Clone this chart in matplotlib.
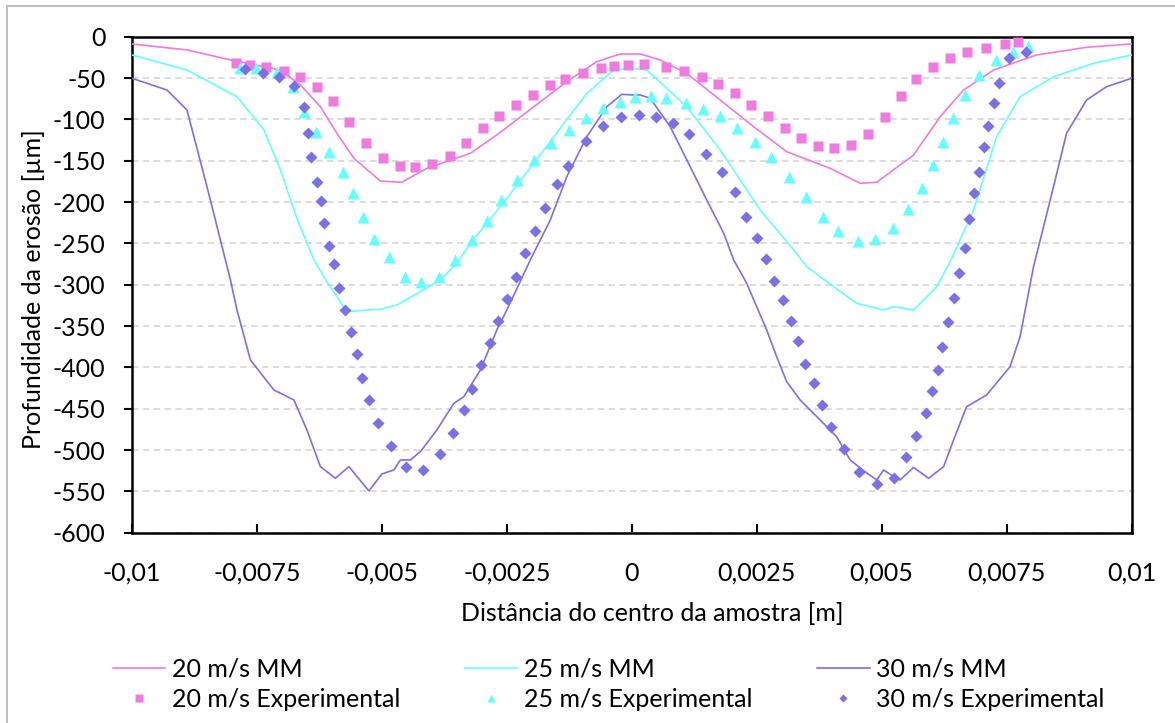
import matplotlib
matplotlib.use("Agg")
import matplotlib.pyplot as plt
from matplotlib.lines import Line2D
from matplotlib.ticker import FuncFormatter

# ---------------- data ----------------
# 20 m/s MM (line)
mm20_x = [-0.01, -0.0089, -0.00796, -0.00703, -0.00663, -0.00623, -0.0059, -0.00556, -0.00503, -0.0046,
          -0.0041, -0.00323, -0.0027, -0.00196, -0.0013, -0.0007, -0.00023, 0.00017, 0.00057, 0.0011,
          0.00177, 0.00244, 0.0031, 0.00397, 0.00457, 0.0049, 0.00564, 0.00617, 0.00664, 0.00724,
          0.0081, 0.0091, 0.01]
mm20_y = [-8.8, -16, -29, -40.3, -58.4, -84.7, -116.9, -147.1, -174.6, -176.1,
          -159.2, -141, -118.9, -84.7, -54.4, -30.2, -20.9, -20.9, -28.2, -44.3,
          -76.6, -108.9, -139.1, -159.2, -177.3, -176.1, -143.1, -96.8, -64.5, -40.3,
          -22.1, -12.8, -8.8]

# 25 m/s MM (line)
mm25_x = [-0.01, -0.0089, -0.0079, -0.00736, -0.00703, -0.00669, -0.00636, -0.0061, -0.0057, -0.0053,
          -0.00503, -0.0047, -0.00423, -0.00383, -0.0035, -0.00323, -0.00263, -0.00196, -0.00156, -0.0009,
          -0.00036, 0.0, 0.0003, 0.0011, 0.00177, 0.00257, 0.00324, 0.0035, 0.00404, 0.0045,
          0.00504, 0.00524, 0.00564, 0.0061, 0.00637, 0.00684, 0.0073, 0.00777, 0.00844, 0.00924, 0.01]
mm25_y = [-22.1, -40.3, -72.6, -112.9, -161.2, -221.7, -270.1, -296.4, -332.7, -330.6,
          -329.8, -324.5, -308.4, -294.3, -274.1, -249.9, -205.6, -153.1, -121, -68.5,
          -40.3, -38.2, -40.3, -84.7, -137, -209.6, -258, -278.2, -302.4, -322.5,
          -330.6, -326.6, -330.6, -302.4, -272.2, -209.6, -121, -72.6, -48.4, -32.2, -22.1]

# 30 m/s MM (line)
mm30_x = [-0.01, -0.0093, -0.0089, -0.0085, -0.00803, -0.0079, -0.00763, -0.00716, -0.00676, -0.0065,
          -0.00623, -0.00593, -0.00566, -0.00526, -0.005, -0.00476, -0.00463, -0.00443, -0.00423, -0.0039,
          -0.00356, -0.00336, -0.00303, -0.0027, -0.0025, -0.00203, -0.00163, -0.0013, -0.0009, -0.0005,
          -0.0002, 0.00004, 0.00017, 0.00037, 0.00077, 0.00117, 0.0015, 0.00184, 0.00204, 0.0023,
          0.0025, 0.0027, 0.0029, 0.0031, 0.00337, 0.00377, 0.0041, 0.00437, 0.00464, 0.0049,
          0.00504, 0.00524, 0.00537, 0.00564, 0.00594, 0.00624, 0.00644, 0.0067, 0.0071, 0.00757,
          0.00777, 0.00804, 0.00844, 0.0087, 0.0091, 0.0095, 0.01]
mm30_y = [-50.3, -64.5, -88.7, -181.4, -294.3, -330.6, -391.1, -427.4, -439.5, -475.7,
          -520.1, -534.2, -520.1, -549.5, -529, -524.1, -512, -512, -502, -475.7,
          -443.5, -435.5, -403.2, -354.8, -330.6, -270.1, -221.7, -169.3, -121, -84.7,
          -69.7, -70.5, -70.5, -74.5, -108.9, -157.3, -197.5, -237.8, -270.1, -298.3,
          -326.6, -354.8, -387.1, -417.3, -439.5, -463.7, -483.8, -512, -525, -536.2,
          -524.1, -532.2, -536.2, -521, -534.2, -520.1, -487.8, -447.6, -433.4, -399.2,
          -362.9, -278.2, -181.4, -116.9, -76.6, -60.5, -50.3]

# 20 m/s Experimental (squares)
ex20_x = [-0.00791, -0.00764, -0.00732, -0.00695, -0.00663, -0.00629, -0.00598, -0.00566, -0.00532, -0.00498,
          -0.00464, -0.00434, -0.004, -0.00364, -0.00331, -0.00298, -0.00266, -0.00232, -0.00198, -0.00164,
          -0.00133, -0.00098, -0.00062, -0.00036, -0.00007, 0.00024, 0.00069, 0.00105, 0.0014, 0.00172,
          0.00206, 0.00238, 0.00272, 0.00306, 0.00339, 0.00373, 0.00405, 0.00439, 0.00472, 0.00506,
          0.00538, 0.00569, 0.00602, 0.00637, 0.0067, 0.00709, 0.00746, 0.00772]
ex20_y = [-32.2, -34.2, -36.3, -41.1, -48.4, -60.5, -78.2, -103.6, -128.2, -146.7,
          -156, -157.6, -154, -143.9, -128.2, -110, -95.9, -83, -70.1, -58.4,
          -51.6, -44.3, -38.3, -35.5, -33.8, -33.4, -36.3, -41.5, -48.4, -57.2,
          -67.7, -82.6, -95.5, -110, -122.2, -131.8, -135, -130.6, -117.7, -96.8,
          -71.7, -51.2, -36.3, -25.4, -18.9, -14, -9.2, -6]

# 25 m/s Experimental (triangles)
ex25_x = [-0.00784, -0.00751, -0.0071, -0.00678, -0.00655, -0.00631, -0.00605, -0.00577, -0.00558, -0.00538,
          -0.00515, -0.00486, -0.00454, -0.00422, -0.00386, -0.00353, -0.0032, -0.0029, -0.00261, -0.0023,
          -0.00196, -0.00162, -0.00126, -0.00091, -0.00058, -0.00023, 0.00007, 0.00039, 0.00068, 0.00109,
          0.00142, 0.00177, 0.0021, 0.00246, 0.00278, 0.00314, 0.00348, 0.00382, 0.00413, 0.00452,
          0.00486, 0.00522, 0.00553, 0.0058, 0.00602, 0.00622, 0.00642, 0.00666, 0.00694, 0.00729,
          0.00762, 0.00792]
ex25_y = [-38.2, -38.2, -42.3, -60.5, -90.7, -114.9, -139.1, -164, -189.4, -218.5,
          -244.7, -266.9, -290.3, -297, -290.3, -270.1, -245.9, -222.9, -197.5, -173.3,
          -149.1, -129, -112.9, -98, -86.6, -78.6, -73.3, -71.7, -74.5, -79.8,
          -87.5, -95.6, -110, -127.7, -145.2, -169.3, -194.3, -217.7, -234.7, -247.1,
          -245.1, -231, -208.8, -183.4, -155.2, -127.7, -98, -70.5, -46.3, -28.2,
          -18.1, -11.2]

# 30 m/s Experimental (diamonds)
ex30_x = [-0.00773, -0.00738, -0.00705, -0.00676, -0.00656, -0.00648, -0.00641, -0.0063, -0.00621, -0.00615,
          -0.00606, -0.00596, -0.00586, -0.00574, -0.00562, -0.0055, -0.00539, -0.00525, -0.00507, -0.00481,
          -0.00451, -0.00418, -0.00383, -0.00357, -0.00336, -0.0032, -0.00301, -0.00284, -0.00268, -0.0025,
          -0.00232, -0.00214, -0.00193, -0.00173, -0.0015, -0.00128, -0.00092, -0.00058, -0.00021, 0.00014,
          0.00049, 0.00082, 0.00115, 0.00149, 0.0018, 0.00206, 0.00228, 0.0025, 0.00268, 0.00284,
          0.00302, 0.00318, 0.00332, 0.00346, 0.00364, 0.00381, 0.00399, 0.00424, 0.00454, 0.00491,
          0.00524, 0.00549, 0.00569, 0.00588, 0.00601, 0.00612, 0.00621, 0.00632, 0.00644, 0.00655,
          0.00666, 0.00675, 0.00684, 0.00694, 0.00704, 0.00712, 0.00725, 0.00735, 0.00755, 0.00788]
ex30_y = [-39.5, -44.3, -48.4, -59.6, -85.4, -116.1, -145.2, -176.1, -198.7, -225,
          -253.2, -275.3, -304, -330.6, -357.2, -383.4, -413.2, -439.5, -467.3, -495.1,
          -520.1, -523.8, -505.2, -479, -451.6, -426.2, -397.1, -370.9, -343.9, -317.7,
          -290.3, -261.3, -235, -206.8, -178.5, -156.4, -125.8, -108, -97.5, -94.7,
          -97.5, -104, -117.3, -141.5, -163.3, -187.9, -217.7, -243.9, -268.9, -295.5,
          -318.9, -343.9, -368.5, -395.9, -418.5, -445.9, -472.5, -499.1, -526.6, -540.7,
          -533.5, -508.8, -483, -455.6, -428.6, -403.2, -375.7, -345.5, -316.4, -286.2,
          -256, -220.5, -189.4, -163.7, -133.8, -107.7, -79.8, -55.6, -26.1, -18.1]

labels = ["20 m/s MM", "25 m/s MM", "30 m/s MM",
          "20 m/s Experimental", "25 m/s Experimental", "30 m/s Experimental"]
x_ticks = [-0.01, -0.0075, -0.005, -0.0025, 0, 0.0025, 0.005, 0.0075, 0.01]
y_ticks = list(range(-600, 1, 50))
xlabel = "Distância do centro da amostra [m]"
ylabel = "Profundidade da erosão [µm]"

# ---------------- style ----------------
PINK = "#F07ADF"
CYAN = "#66FFFF"
PURP = "#7B70E6"
plt.rcParams['font.family'] = ['Lato', 'DejaVu Sans']
FS = 18

W, H = 1175, 723
fig = plt.figure(figsize=(W / 100, H / 100), dpi=100)
AX_L, AX_R, AX_T, AX_B = 132, 1131.5, 36.7, 532.7
ax = fig.add_axes([AX_L / W, 1 - AX_B / H, (AX_R - AX_L) / W, (AX_B - AX_T) / H])

ax.plot(mm20_x, mm20_y, color=PINK, lw=1.2, label=labels[0], zorder=3)
ax.plot(mm25_x, mm25_y, color=CYAN, lw=1.2, label=labels[1], zorder=3)
ax.plot(mm30_x, mm30_y, color=PURP, lw=1.2, label=labels[2], zorder=3)
ax.plot(ex20_x, ex20_y, ls='none', marker='s', ms=7.8, color=PINK, mec='none', label=labels[3], zorder=4)
ax.plot(ex25_x, ex25_y, ls='none', marker='^', ms=8.8, color=CYAN, mec='none', label=labels[4], zorder=4)
ax.plot(ex30_x, ex30_y, ls='none', marker='D', ms=6.4, color=PURP, mec='none', label=labels[5], zorder=4)

ax.set_xlim(-0.01, 0.01)
ax.set_ylim(-600, 0)
ax.set_xticks(x_ticks)
ax.set_yticks(y_ticks)


def fmt_x(v, pos):
    if abs(v) < 1e-12:
        return "0"
    s = ("%.4f" % v).rstrip('0').rstrip('.')
    return s.replace('.', ',')


ax.xaxis.set_major_formatter(FuncFormatter(fmt_x))
ax.yaxis.set_major_formatter(FuncFormatter(lambda v, p: "%d" % v))

ax.yaxis.grid(True, color="#D9D9D9", lw=1.3, ls=(0, (3.5, 2.5)), zorder=0)
ax.set_axisbelow(True)
for s in ax.spines.values():
    s.set_linewidth(1.8)
    s.set_color("black")

ax.tick_params(axis='y', direction='out', length=6, width=1.5, labelsize=FS, pad=13)
ax.tick_params(axis='x', direction='in', length=6.5, width=1.5, labelsize=FS, pad=21)

ax.set_xlabel(xlabel, fontsize=FS)
ax.xaxis.set_label_coords((652 - AX_L) / (AX_R - AX_L), -(602 - AX_B) / (AX_B - AX_T))
ax.set_ylabel(ylabel, fontsize=FS)
ax.yaxis.set_label_coords(-(AX_L - 45) / (AX_R - AX_L), 0.5 - (289 - 284.7) / (AX_B - AX_T))

handles, labs = ax.get_legend_handles_labels()
order = [0, 3, 1, 4, 2, 5]
leg = fig.legend([handles[i] for i in order], [labs[i] for i in order], ncol=3,
                 loc='center', bbox_to_anchor=(608.5 / W, 1 - 684 / H), frameon=False,
                 fontsize=FS, handlelength=2.1, handletextpad=0.25, columnspacing=2.6,
                 labelspacing=0.3, markerscale=0.7, borderpad=0, borderaxespad=0)

# outer chart border (left & top visible)
fig.add_artist(Line2D([7 / W, 7 / W], [0, 1 - 6 / H], color="#BFBFBF", lw=1.5, transform=fig.transFigure))
fig.add_artist(Line2D([7 / W, 1], [1 - 6 / H, 1 - 6 / H], color="#BFBFBF", lw=1.5, transform=fig.transFigure))

fig.savefig("out.png", dpi=100)
